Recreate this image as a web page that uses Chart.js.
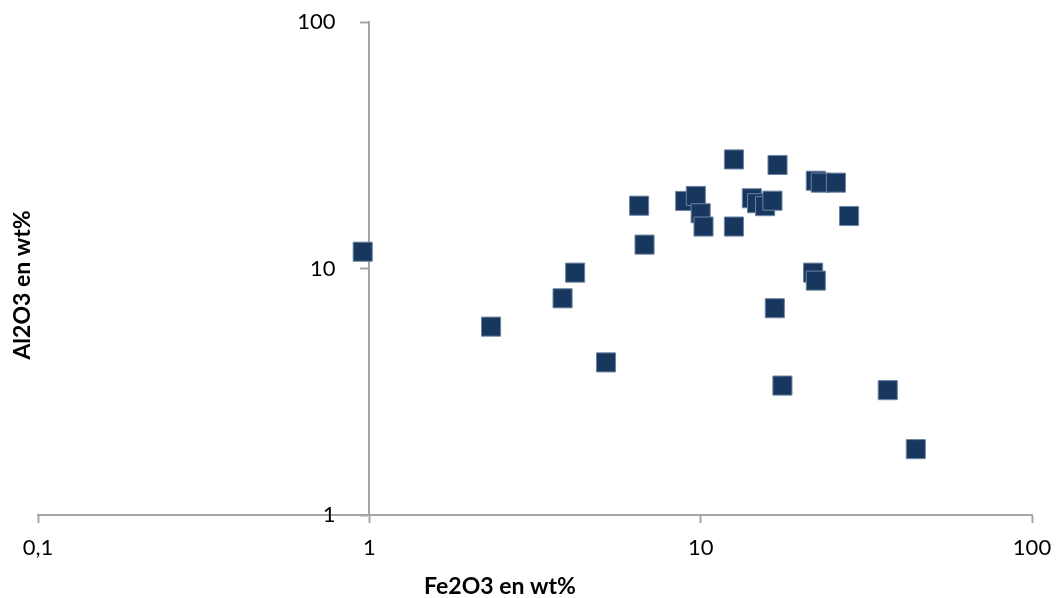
<!DOCTYPE html>
<html>
<head>
<meta charset="utf-8">
<script src="https://cdn.jsdelivr.net/npm/chart.js@4.4.1/dist/chart.umd.min.js"></script>
<style>
  html, body { margin: 0; padding: 0; background: #fff; }
  #wrap { width: 1058px; height: 598px; }
</style>
</head>
<body>
<div id="wrap"><canvas id="chart" width="1058" height="598"></canvas></div>
<script>
// Fe2O3 (x) vs Al2O3 (y), wt%
const fe2o3 = [0.955, 2.33, 3.83, 4.18, 5.18, 6.52, 6.77, 8.98, 9.67, 10.0,
               10.2, 12.6, 12.6, 17.06, 14.27, 14.8, 15.65, 16.47, 22.26, 23.04,
               25.6, 28.05, 21.85, 22.26, 16.74, 17.65, 36.7, 44.6];
const al2o3 = [11.7, 5.81, 7.57, 9.62, 4.16, 17.98, 12.5, 18.8, 19.7, 16.75,
               14.8, 14.8, 27.7, 26.3, 19.27, 18.4, 17.9, 18.84, 22.7, 22.3,
               22.3, 16.33, 9.62, 8.93, 6.9, 3.35, 3.21, 1.85];
const xTicks = [0.1, 1, 10, 100];
const yTicks = [1, 10, 100];
const xTickLabels = ['0,1', '1', '10', '100'];
const xTitle = 'Fe2O3 en wt%';
const yTitle = 'Al2O3 en wt%';

const AXIS_GRAY = '#a6a6a6';
const FONT = 'Lato, "Open Sans", sans-serif';

const points = fe2o3.map((x, i) => ({ x: x, y: al2o3[i] }));

// titres d'axes dessinés à la main : dans l'original ils ne sont pas centrés sur la zone de tracé
const axisTitlesPlugin = {
    id: 'axisTitles',
    afterDraw(chart) {
        const ctx = chart.ctx;
        ctx.save();
        ctx.font = 'bold 23px ' + FONT;
        ctx.fillStyle = '#000';
        ctx.textAlign = 'center';
        ctx.textBaseline = 'middle';
        ctx.fillText(xTitle, 500, 587);
        ctx.translate(23, 285);
        ctx.rotate(-Math.PI / 2);
        ctx.fillText(yTitle, 0, 0);
        ctx.restore();
    }
};

new Chart(document.getElementById('chart'), {
    type: 'scatter',
    data: {
        datasets: [{
            data: points,
            pointStyle: 'rect',
            pointRadius: 13.5,
            pointHoverRadius: 13.5,
            backgroundColor: '#17375e',
            borderColor: '#6e84a3',
            borderWidth: 1
        }]
    },
    options: {
        responsive: false,
        animation: false,
        events: [],
        layout: { padding: { left: 38, right: 26, top: 22, bottom: 0 } },
        plugins: {
            legend: { display: false },
            tooltip: { enabled: false }
        },
        scales: {
            x: {
                type: 'logarithmic',
                position: 'bottom',
                min: 0.1,
                max: 100,
                afterBuildTicks: s => { s.ticks = xTicks.map(v => ({ value: v })); },
                afterFit: s => {
                    s.height = 83;
                    // le "100" final peut déborder, comme dans l'original
                    s.paddingLeft = 0;
                    s.paddingRight = 0;
                },
                ticks: {
                    color: '#000',
                    font: { family: FONT, size: 22 },
                    padding: 12,
                    maxRotation: 0,
                    autoSkip: false,
                    callback: (v, i) => xTickLabels[i]
                },
                grid: {
                    drawOnChartArea: false,
                    color: AXIS_GRAY,
                    tickLength: 8,
                    tickWidth: 2
                },
                border: { color: AXIS_GRAY, width: 2 }
            },
            y: {
                type: 'logarithmic',
                position: { x: 1 },
                min: 1,
                max: 100,
                afterBuildTicks: s => { s.ticks = yTicks.map(v => ({ value: v })); },
                ticks: {
                    color: '#000',
                    font: { family: FONT, size: 22 },
                    autoSkip: false,
                    // axe centré : Chart.js colle le texte à l'axe, les espaces le décalent à gauche
                    callback: v => String(v) + '      '
                },
                grid: {
                    drawOnChartArea: false,
                    color: AXIS_GRAY,
                    tickLength: 8,
                    tickWidth: 2
                },
                border: { color: AXIS_GRAY, width: 2 }
            }
        }
    },
    plugins: [axisTitlesPlugin]
});
</script>
</body>
</html>
